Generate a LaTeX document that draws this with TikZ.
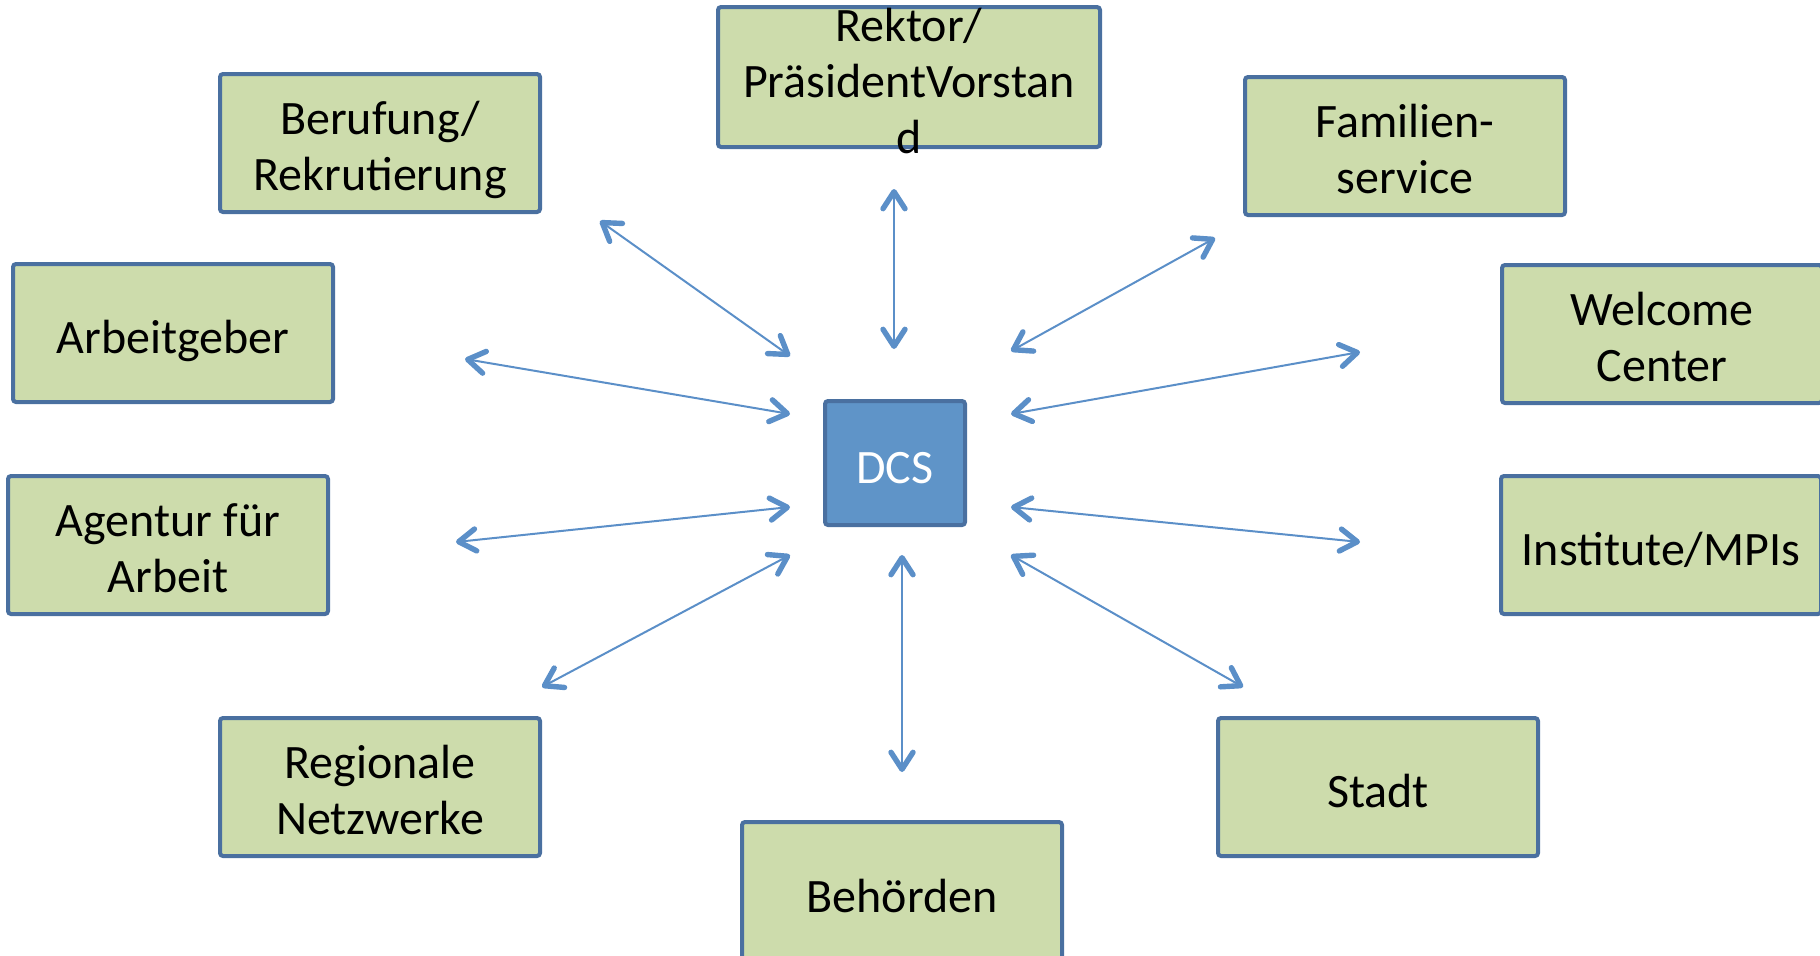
\documentclass[tikz,border=0pt]{standalone}
\usepackage{fontspec}
\setmainfont{Carlito}
\usetikzlibrary{arrows.meta, positioning}

\definecolor{kastengruen}{HTML}{CDDCAC}
\definecolor{randblau}{HTML}{4A70A0}
\definecolor{dcsblau}{HTML}{5F94C8}
\definecolor{pfeilblau}{HTML}{5B8FC8}

\tikzset{
  partner/.style={draw=randblau, fill=kastengruen, line width=2pt, rounded corners=1.5pt,
    minimum width=160pt, minimum height=69pt, inner sep=1pt, align=center,
    text height=26pt, text depth=5.5pt, font=\fontsize{24}{28}\selectfont},
  zweizeilig/.style={partner, text height=53pt},
  zentrum/.style={partner, fill=dcsblau, text=white, minimum width=70pt, minimum height=62pt},
  wechsel/.style={pfeilblau, line width=1pt,
    >={Straight Barb[length=8.5pt, width=11pt, line width=2.7pt, round]}, <->}
}

\begin{document}
\begin{tikzpicture}[x=0.5pt, y=-0.5pt]
    \useasboundingbox (0,0) rectangle (1820,955);
    \node[zentrum] (dcs) at (895,463) {DCS};
    \node[partner, minimum width=191pt, minimum height=70pt, text height=27pt] (rektor) at (909,77) {\begin{tabular}{@{}c@{}}Rektor/\\Pr\"asidentVorstan\\d\end{tabular}};
    \node[zweizeilig] (berufung) at (380,143) {Berufung/\\Rekrutierung};
    \node[zweizeilig] (familie) at (1405,146) {Familien-\\service};
    \node[partner] (arbeitgeber) at (173,333) {Arbeitgeber};
    \node[zweizeilig] (welcome) at (1662,334) {Welcome\\Center};
    \node[zweizeilig] (agentur) at (168,545) {Agentur f\"ur\\Arbeit};
    \node[partner] (institute) at (1661,545) {Institute/MPIs};
    \node[zweizeilig] (regional) at (380,787) {Regionale\\Netzwerke};
    \node[partner] (stadt) at (1378,787) {Stadt};
    \node[partner, minimum height=70pt] (behoerden) at (902,892) {Beh\"orden};

    \coordinate (ber1) at (600,221);
    \coordinate (ber2) at (790,356);
    \coordinate (rek1) at (894,189);
    \coordinate (rek2) at (894,349);
    \coordinate (fam1) at (1215,238);
    \coordinate (fam2) at (1011,351);
    \coordinate (arb1) at (465,359);
    \coordinate (arb2) at (790,414);
    \coordinate (wel1) at (1360,352);
    \coordinate (wel2) at (1011,414);
    \coordinate (age1) at (456,542);
    \coordinate (age2) at (790,507);
    \coordinate (ins1) at (1360,542);
    \coordinate (ins2) at (1011,507);
    \coordinate (reg1) at (542,687);
    \coordinate (reg2) at (790,555);
    \coordinate (beh1) at (902,772);
    \coordinate (beh2) at (902,555);
    \coordinate (sta1) at (1243,687);
    \coordinate (sta2) at (1011,555);

    \draw[wechsel] (ber1) -- (ber2);
    \draw[wechsel] (rek1) -- (rek2);
    \draw[wechsel] (fam1) -- (fam2);
    \draw[wechsel] (arb1) -- (arb2);
    \draw[wechsel] (wel1) -- (wel2);
    \draw[wechsel] (age1) -- (age2);
    \draw[wechsel] (ins1) -- (ins2);
    \draw[wechsel] (reg1) -- (reg2);
    \draw[wechsel] (beh1) -- (beh2);
    \draw[wechsel] (sta1) -- (sta2);
\end{tikzpicture}
\end{document}
